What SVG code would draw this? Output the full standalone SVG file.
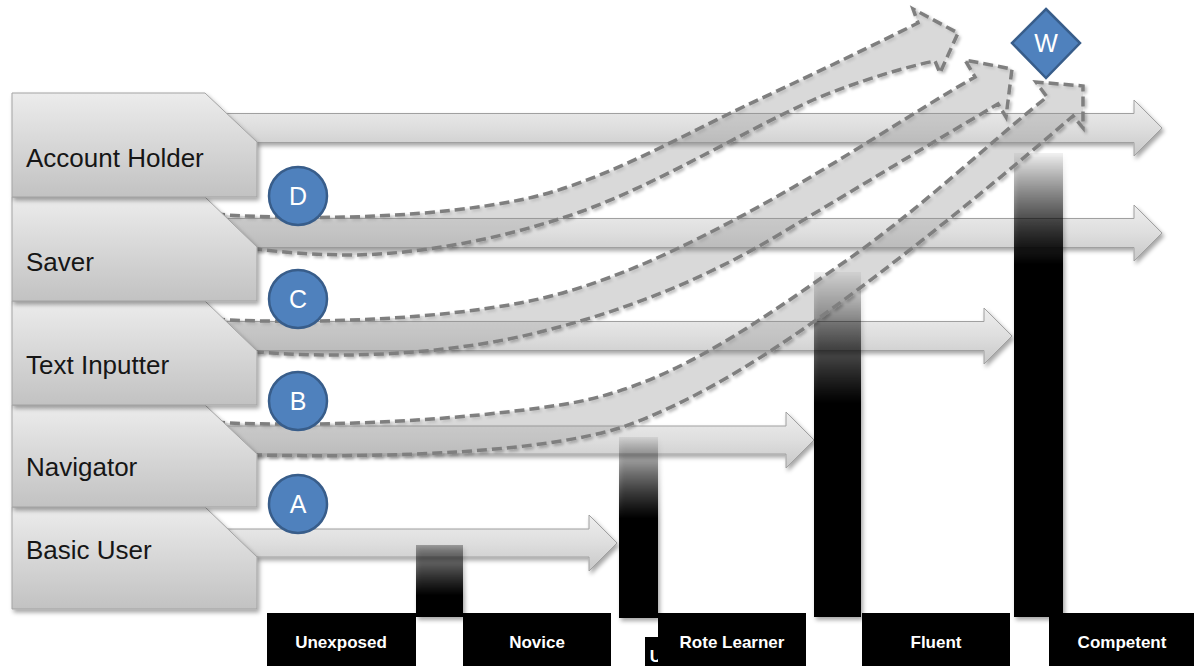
<svg xmlns="http://www.w3.org/2000/svg" width="1194" height="666" viewBox="0 0 1194 666">
  <defs>
    <style>
      .box { fill: url(#boxGrad); stroke: #a3a3a3; stroke-width: 1; filter: url(#shadow); }
      .boxText { font-family: "Liberation Sans", Arial, sans-serif; font-size: 26px; fill: #161616; }
      .hArrow { fill: url(#arrowGrad); stroke: #a0a0a0; stroke-width: 1; }
      .cArrow { fill: #9a9a9a; fill-opacity: 0.28; stroke: #7f7f7f; stroke-width: 3.5; stroke-dasharray: 10 5; }
      .bar { filter: url(#shadow); }
      .label { fill: #000; }
      .labelText { font-family: "Liberation Sans", Arial, sans-serif; font-size: 17px; font-weight: bold; fill: #fff; text-anchor: middle; }
      .badge { fill: #4f81bd; stroke: #385d8a; stroke-width: 2.5; }
      .badgeText { font-family: "Liberation Sans", Arial, sans-serif; font-size: 25px; fill: #fff; text-anchor: middle; }
    </style>
    <linearGradient id="boxGrad" x1="0" y1="0" x2="0" y2="1">
      <stop offset="0" stop-color="#ececec"/>
      <stop offset="1" stop-color="#c2c2c2"/>
    </linearGradient>
    <linearGradient id="arrowGrad" x1="0" y1="0" x2="0" y2="1">
      <stop offset="0" stop-color="#eeeeee"/>
      <stop offset="0.5" stop-color="#dedede"/>
      <stop offset="1" stop-color="#c8c8c8"/>
    </linearGradient>
    <linearGradient id="bar1" x1="0" y1="0" x2="0" y2="1">
      <stop offset="0" stop-color="#000" stop-opacity="0.3"/>
      <stop offset="0.7" stop-color="#000" stop-opacity="1"/>
    </linearGradient>
    <linearGradient id="bar2" x1="0" y1="0" x2="0" y2="1">
      <stop offset="0" stop-color="#000" stop-opacity="0.06"/>
      <stop offset="0.45" stop-color="#000" stop-opacity="1"/>
    </linearGradient>
    <linearGradient id="bar3" x1="0" y1="0" x2="0" y2="1">
      <stop offset="0" stop-color="#000" stop-opacity="0.05"/>
      <stop offset="0.38" stop-color="#000" stop-opacity="1"/>
    </linearGradient>
    <linearGradient id="bar4" x1="0" y1="0" x2="0" y2="1">
      <stop offset="0" stop-color="#000" stop-opacity="0.05"/>
      <stop offset="0.24" stop-color="#000" stop-opacity="1"/>
    </linearGradient>
    <filter id="shadow" x="-10%" y="-10%" width="130%" height="140%">
      <feDropShadow dx="2" dy="3" stdDeviation="2" flood-color="#000" flood-opacity="0.35"/>
    </filter>
    <filter id="softShadow" x="-5%" y="-5%" width="115%" height="120%">
      <feDropShadow dx="2" dy="2" stdDeviation="1.8" flood-color="#000" flood-opacity="0.28"/>
    </filter>
  </defs>

  <rect width="1194" height="666" fill="#fff"/>

  <!-- straight level arrows -->
  <g id="connectors">
    <g id="level-arrows" filter="url(#shadow)">
      <path class="hArrow" d="M200,113.5 H1134 V100 L1162,128 L1134,156 V142.5 H200 Z"/>
      <path class="hArrow" d="M200,218.5 H1134 V205 L1162,233 L1134,261 V247.5 H200 Z"/>
      <path class="hArrow" d="M200,321.5 H984 V308 L1012,336 L984,364 V350.5 H200 Z"/>
      <path class="hArrow" d="M200,426 H786 V412 L814,440 L786,468 V454 H200 Z"/>
      <path class="hArrow" d="M200,529 H589 V515 L617,543 L589,571 V557 H200 Z"/>
    </g>
  </g>

  <!-- stage bars -->
  <g id="bars">
    <rect id="bar-unexposed" class="bar" x="416" y="545" width="47" height="72" fill="url(#bar1)"/>
    <rect id="bar-rote" class="bar" x="619" y="437" width="39" height="181" fill="url(#bar2)"/>
    <rect id="bar-fluent" class="bar" x="814" y="272" width="47" height="345" fill="url(#bar3)"/>
    <rect id="bar-competent" class="bar" x="1014" y="153" width="49" height="464" fill="url(#bar4)"/>
  </g>

  <!-- curved progression arrows -->
  <g id="progress-arrows" filter="url(#softShadow)">
    <path id="arrow-d" class="cArrow" d="M215,214 L227,215 C330,221 440,216 520,200 C600,184 680,136 760,99 C820,71 880,42 918,23 L913,9 L958,33 L940,73 L935,61 C910,66 860,80 813,100 C740,133 660,183 580,212 C500,240 420,254 353,255 C310,255 280,252 257,249 L215,249 Z"/>
    <path id="arrow-c" class="cArrow" d="M215,319 L227,320 C330,324 440,318 520,303 C600,288 680,250 760,206 C840,162 920,108 975,77 L965,60 L1012,69 L1006,117 L998,104 C930,144 862,185 780,234 C700,282 620,312 540,332 C460,352 360,360 257,352 L215,352 Z"/>
    <path id="arrow-b" class="cArrow" d="M215,422 L227,423 C340,427 460,420 560,405 C660,390 740,335 840,265 C920,210 990,142 1047,97 L1036,82 L1083,86 L1083,128 L1073,116 C1010,170 940,228 860,288 C780,348 700,400 620,428 C540,452 400,458 257,455 L215,455 Z"/>
  </g>

  <!-- role boxes, lowest first so each upper box casts onto the next -->
  <g id="node-basic-user">
    <path class="box" d="M12,507 H205 L257,557 V609 H12 Z"/>
    <text class="boxText" x="26" y="559">Basic User</text>
  </g>
  <g id="node-navigator">
    <path class="box" d="M12,405 H205 L257,454 V507 H12 Z"/>
    <text class="boxText" x="26" y="476">Navigator</text>
  </g>
  <g id="node-text-inputter">
    <path class="box" d="M12,301 H205 L257,351 V405 H12 Z"/>
    <text class="boxText" x="26" y="374">Text Inputter</text>
  </g>
  <g id="node-saver">
    <path class="box" d="M12,197 H205 L257,247 V301 H12 Z"/>
    <text class="boxText" x="26" y="271">Saver</text>
  </g>
  <g id="node-account-holder">
    <path class="box" d="M12,93 H205 L257,142 V197 H12 Z"/>
    <text class="boxText" x="26" y="167">Account Holder</text>
  </g>

  <!-- stage labels -->
  <g id="stage-labels">
    <g id="label-hidden">
      <rect class="label" x="645" y="637" width="30" height="29"/>
      <text class="labelText" x="656" y="662">U</text>
    </g>
    <g id="label-unexposed">
      <rect class="label" x="267" y="613" width="149" height="53"/>
      <text class="labelText" x="341" y="648">Unexposed</text>
    </g>
    <g id="label-novice">
      <rect class="label" x="463" y="613" width="148" height="53"/>
      <text class="labelText" x="537" y="648">Novice</text>
    </g>
    <g id="label-rote">
      <rect class="label" x="658" y="613" width="148" height="53"/>
      <text class="labelText" x="732" y="648">Rote Learner</text>
    </g>
    <g id="label-fluent">
      <rect class="label" x="862" y="613" width="148" height="53"/>
      <text class="labelText" x="936" y="648">Fluent</text>
    </g>
    <g id="label-competent">
      <rect class="label" x="1049" y="613" width="145" height="53"/>
      <text class="labelText" x="1122" y="648">Competent</text>
    </g>
  </g>

  <!-- lettered markers -->
  <g id="node-d">
    <circle class="badge" cx="298" cy="196" r="29"/>
    <text class="badgeText" x="298" y="205">D</text>
  </g>
  <g id="node-c">
    <circle class="badge" cx="298" cy="299" r="29"/>
    <text class="badgeText" x="298" y="308">C</text>
  </g>
  <g id="node-b">
    <circle class="badge" cx="298" cy="401" r="29"/>
    <text class="badgeText" x="298" y="410">B</text>
  </g>
  <g id="node-a">
    <circle class="badge" cx="298" cy="504" r="29"/>
    <text class="badgeText" x="298" y="513">A</text>
  </g>
  <g id="node-w">
    <path class="badge" d="M1046,9 L1080,43 L1046,78 L1012,43 Z"/>
    <text class="badgeText" x="1046" y="52">W</text>
  </g>
</svg>
